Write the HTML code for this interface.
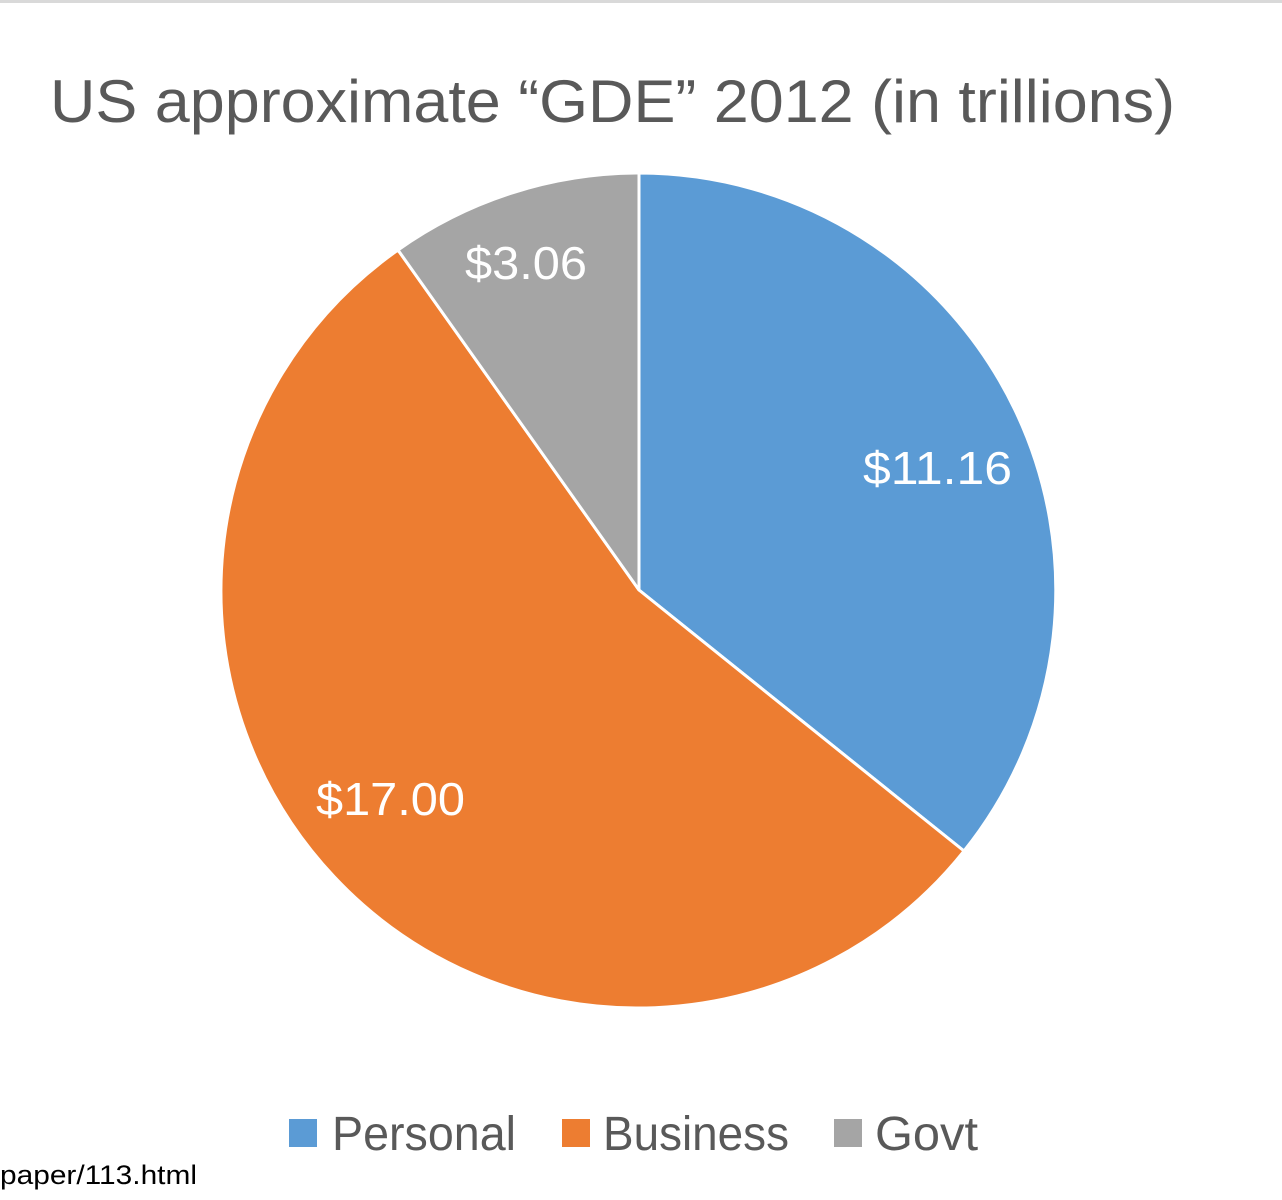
<!DOCTYPE html>
<html>
<head>
<meta charset="utf-8">
<style>
html,body{margin:0;padding:0;background:#fff;}
svg{display:block;}
</style>
</head>
<body>
<svg width="1282" height="1200" viewBox="0 0 1282 1200" xmlns="http://www.w3.org/2000/svg">
<rect x="0" y="0" width="1282" height="1200" fill="#fff"/>
<rect x="0" y="0" width="1282" height="3" fill="#d9d9d9"/>
<text x="50" y="122" font-family="Liberation Sans, sans-serif" font-size="60" fill="#595959" textLength="1125" lengthAdjust="spacingAndGlyphs">US approximate “GDE” 2012 (in trillions)</text>
<g stroke="#fff" stroke-width="3" stroke-linejoin="round">
<path d="M639,590 L639,173 A417,417 0 0 1 964,851 Z" fill="#5b9bd5"/>
<path d="M639,590 L964,851 A417,417 0 1 1 398,250 Z" fill="#ed7d31"/>
<path d="M639,590 L398,250 A417,417 0 0 1 639,173 Z" fill="#a5a5a5"/>
</g>
<g font-family="Liberation Sans, sans-serif" font-size="46" fill="#fff">
<text x="863" y="484" textLength="149" lengthAdjust="spacingAndGlyphs">$11.16</text>
<text x="465" y="279" textLength="122" lengthAdjust="spacingAndGlyphs">$3.06</text>
<text x="316" y="815" textLength="149" lengthAdjust="spacingAndGlyphs">$17.00</text>
</g>
<rect x="289" y="1119" width="28" height="28" fill="#5b9bd5"/>
<rect x="562" y="1119" width="28" height="28" fill="#ed7d31"/>
<rect x="834" y="1119" width="28" height="28" fill="#a5a5a5"/>
<g font-family="Liberation Sans, sans-serif" font-size="48" fill="#595959">
<text x="332" y="1150" textLength="184" lengthAdjust="spacingAndGlyphs">Personal</text>
<text x="603" y="1150" textLength="186" lengthAdjust="spacingAndGlyphs">Business</text>
<text x="875" y="1150" textLength="103" lengthAdjust="spacingAndGlyphs">Govt</text>
</g>
<text x="0" y="1184" font-family="Liberation Sans, sans-serif" font-size="27" fill="#000" textLength="197" lengthAdjust="spacingAndGlyphs">paper/113.html</text>
</svg>
</body>
</html>
